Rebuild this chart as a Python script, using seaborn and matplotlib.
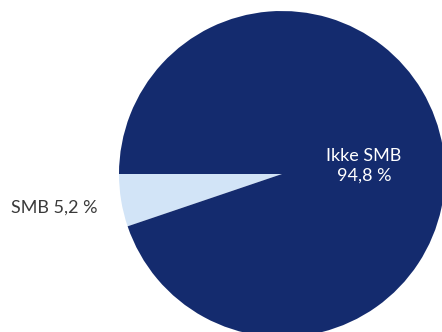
import matplotlib
matplotlib.use("Agg")
import matplotlib.pyplot as plt
import seaborn as sns

categories = ["SMB", "Ikke SMB"]
values = [5.2, 94.8]
labels = ["SMB 5,2 %", "Ikke SMB\n94,8 %"]
colors = ["#d2e4f7", "#142b6e"]

sns.set_theme(style="white")
plt.rcParams['font.family'] = ['Lato', 'DejaVu Sans']

W, H = 442, 332
fig = plt.figure(figsize=(W/100, H/100), dpi=100)
ax = fig.add_axes([0, 0, 1, 1])
cx, cy, r = 282, 174, 163
ax.pie(values, colors=colors, startangle=180, counterclock=True,
       radius=1, center=(0, 0), wedgeprops=dict(linewidth=0))
ax.set_xlim(-cx / r, (W - cx) / r)
ax.set_ylim(-(H - cy) / r, cy / r)
ax.set_aspect('auto')
ax.axis('off')

def px(x, y):
    return (x - cx) / r, (cy - y) / r

ax.text(*px(54, 208), labels[0], ha='center', va='center', fontsize=13,
        color='#3a3a3a', fontweight='normal', zorder=5)
ax.text(*px(364, 166), labels[1], ha='center', va='center', fontsize=13,
        color='white', fontweight='normal', linespacing=1.3, zorder=5)

fig.savefig("out.png", dpi=100)
